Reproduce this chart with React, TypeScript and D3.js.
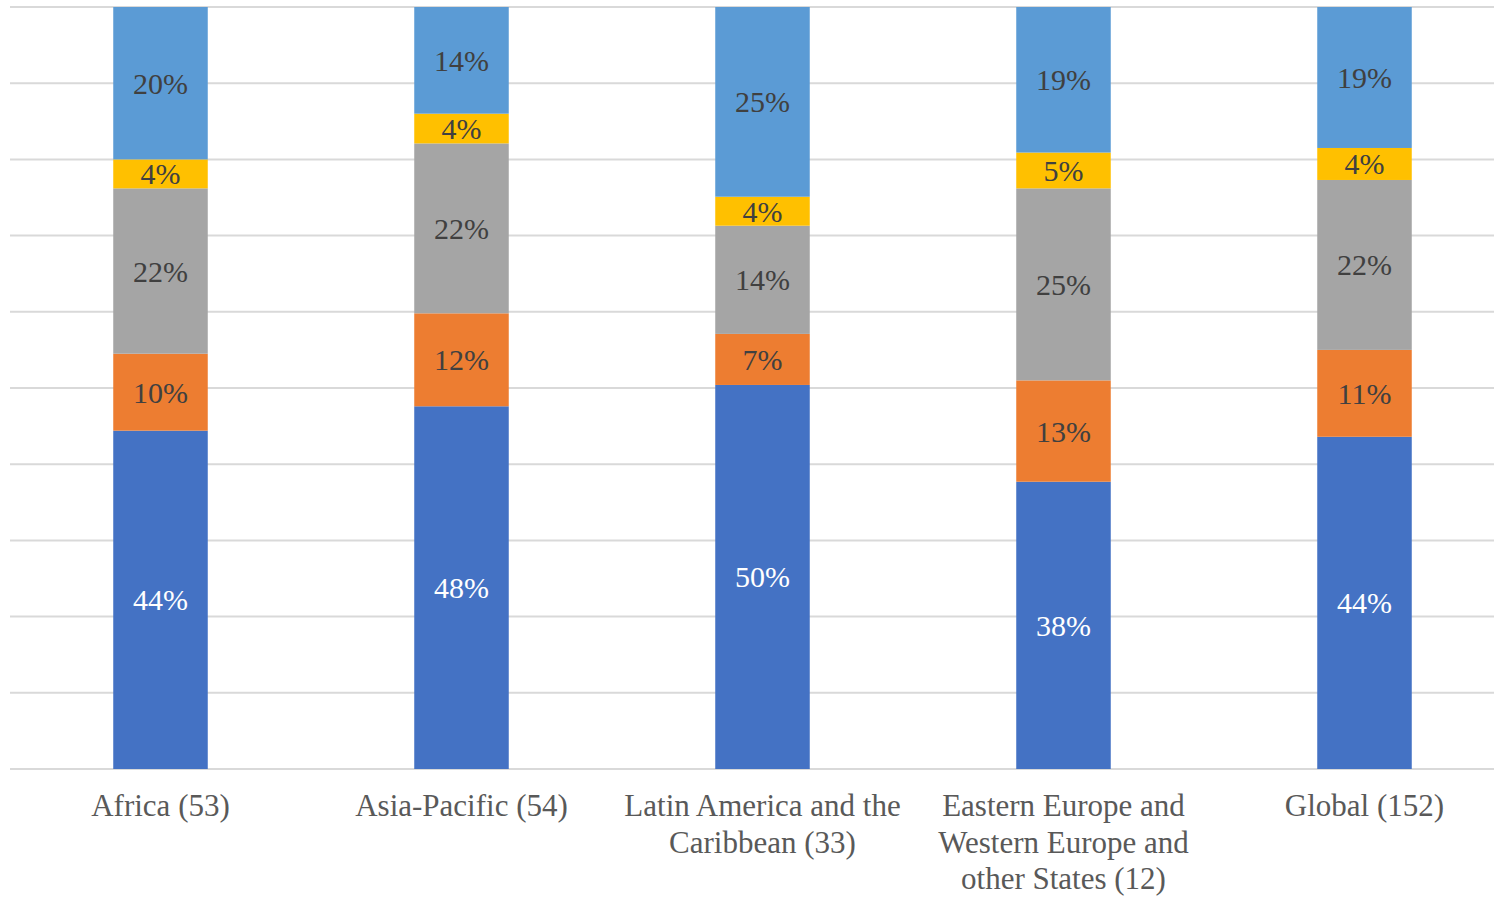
import * as d3 from 'd3'
import React from 'react'

const categories = [
  ['Africa (53)'],
  ['Asia-Pacific (54)'],
  ['Latin America and the', 'Caribbean (33)'],
  ['Eastern Europe and', 'Western Europe and', 'other States (12)'],
  ['Global (152)'],
]

// five stacked series, bottom to top
const s1 = [44.4, 47.6, 50.4, 37.7, 43.6]
const s2 = [10.1, 12.2, 6.7, 13.3, 11.4]
const s3 = [21.7, 22.3, 14.2, 25.2, 22.3]
const s4 = [3.8, 3.9, 3.8, 4.7, 4.2]
const s5 = [20.0, 14.0, 24.9, 19.1, 18.5]

const series = [s1, s2, s3, s4, s5]
const colors = ['#4472C4', '#ED7D31', '#A5A5A5', '#FFC000', '#5B9BD5']
const labelColors = ['#FFFFFF', '#404040', '#404040', '#404040', '#404040']
const gridTicks = [0, 0.1, 0.2, 0.3, 0.4, 0.5, 0.6, 0.7, 0.8, 0.9, 1]

const W = 1494, H = 897
const font = '"Times New Roman", "Liberation Serif", Tinos, "Noto Serif", Times, serif'

export default function App() {
  const
    rows = categories.map((c, i) => {
      const r: any = { key: i }
      series.forEach((s, j) => { r['s' + j] = s[i] })
      return r
    }),
    keys = series.map((_, j) => 's' + j),
    stacked = d3.stack<any>().keys(keys).offset(d3.stackOffsetExpand)(rows),
    x = d3.scaleBand<number>().domain(rows.map(r => r.key)).range([10, 1515]).paddingInner(0.686).paddingOuter(0.343),
    y = d3.scaleLinear().domain([0, 1]).range([769, 7])

  return (
    <svg width={W} height={H} style={{ position: 'absolute', left: 0, top: 0, background: '#fff', fontFamily: font }}>
      {gridTicks.map(t => (
        <line key={t} x1={10} x2={W} y1={y(t)} y2={y(t)} stroke='#D9D9D9' strokeWidth={2} />
      ))}
      {stacked.map((layer, j) => (
        <g key={j}>
          {layer.map((d, i) => (
            <rect key={i} x={x(i)} width={x.bandwidth()} y={y(d[1])} height={y(d[0]) - y(d[1])} fill={colors[j]} />
          ))}
          {layer.map((d, i) => (
            <text key={'t' + i} x={x(i)! + x.bandwidth() / 2} y={(y(d[0]) + y(d[1])) / 2} dy='0.35em'
              textAnchor='middle' fontSize={30} fill={labelColors[j]}>
              {Math.round(series[j][i]) + '%'}
            </text>
          ))}
        </g>
      ))}
      {categories.map((lines, i) => (
        <text key={i} textAnchor='middle' fontSize={31} fill='#595959'>
          {lines.map((l, k) => (
            <tspan key={k} x={x(i)! + x.bandwidth() / 2} y={816 + k * 36.5}>{l}</tspan>
          ))}
        </text>
      ))}
    </svg>
  )
}
